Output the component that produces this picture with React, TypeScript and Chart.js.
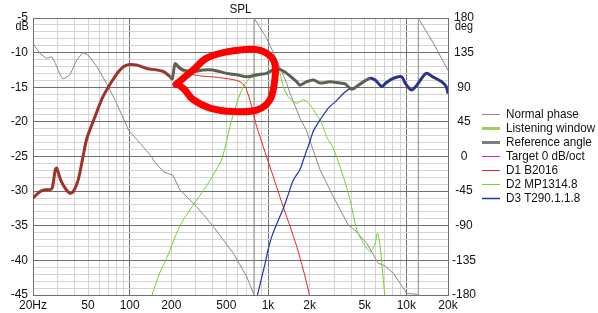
import React, { useEffect, useRef } from 'react';
import Chart from 'chart.js/auto';

// ---- Axis ticks ----
const xGridValues = [20, 30, 40, 50, 60, 70, 80, 90, 100, 200, 300, 400, 500, 600, 700, 800, 900, 1000, 2000, 3000, 4000, 5000, 6000, 7000, 8000, 9000, 10000, 20000];
const xLabelValues = [20, 50, 100, 200, 500, 1000, 2000, 5000, 10000, 20000];
const xLabelTexts = ['20Hz', '50', '100', '200', '500', '1k', '2k', '5k', '10k', '20k'];
const xMajorValues = [100, 1000, 10000];
const degTicks = [-180, -135, -90, -45, 0, 45, 90, 135, 180];

// ---- Reference angle (dB) ----
const refFreq = [20, 22.4, 24.4, 26.3, 27.5, 29, 29.7, 32, 34.8, 37, 39, 42.4, 46, 49, 56, 64, 74, 85, 95, 112, 133, 157, 176, 196, 203, 213, 224, 244, 288, 340, 400, 503, 594, 701, 828, 980, 1156, 1365, 1612, 1700, 1905, 2130, 2380, 2800, 3300, 3600, 4030, 4500, 5470, 5950, 6640, 7100, 8070, 9260, 9800, 10900, 11900, 13900, 15500, 18000, 19400, 20000];
const refDb = [-31.0, -30.1, -29.8, -29.8, -29.6, -26.9, -26.7, -28.6, -29.8, -30.3, -30.1, -28.4, -25.0, -22.4, -19.3, -16.4, -14.2, -12.5, -11.8, -11.8, -12.3, -12.5, -12.75, -13.5, -13.8, -11.6, -12.0, -12.5, -12.75, -12.5, -12.5, -13.0, -13.2, -13.5, -13.2, -13.0, -12.3, -13.0, -14.2, -14.7, -14.2, -13.95, -14.4, -14.2, -14.4, -14.5, -15.3, -14.7, -13.7, -13.95, -14.9, -14.4, -13.7, -13.5, -14.4, -15.4, -14.7, -13.0, -13.5, -14.2, -14.9, -15.9];

// ---- D1 B2016 (dB) ----
const d1Freq = [20, 22.4, 24.4, 26.3, 27.5, 29, 29.7, 32, 34.8, 37, 39, 42.4, 46, 49, 56, 64, 74, 85, 95, 112, 133, 157, 176, 196, 203, 213, 224, 244, 288, 340, 402, 476, 561, 627, 682, 720, 762, 800, 828, 925, 980, 1034, 1155, 1290, 1443, 1612, 1800, 1957, 2010];
const d1Db = [-31.0, -30.1, -29.8, -29.8, -29.6, -26.9, -26.7, -28.6, -29.8, -30.3, -30.1, -28.4, -25.0, -22.4, -19.3, -16.4, -14.2, -12.5, -11.8, -11.8, -12.3, -12.5, -12.75, -13.5, -13.8, -11.7, -12.3, -12.75, -13.2, -13.4, -13.5, -13.7, -13.9, -14.2, -14.9, -16.1, -17.8, -19.5, -20.7, -23.6, -25.2, -26.5, -29.4, -32.3, -35.1, -38.0, -41.4, -44.3, -45.5];

// ---- D2 MP1314.8 (dB) ----
const d2Freq = [145, 165, 185, 231, 288, 360, 420, 470, 530, 594, 663, 741, 875, 1005, 1155, 1220, 1290, 1403, 1612, 1800, 2010, 2250, 2400, 2650, 2960, 3500, 3920, 4380, 4760, 5470, 5950, 6180, 6460, 6750, 7000];
const d2Db = [-45.0, -41.8, -39.7, -35.0, -32.0, -29.2, -27.0, -25.0, -20.7, -17.3, -14.9, -13.7, -13.3, -12.7, -12.0, -13.0, -14.9, -16.4, -17.3, -16.8, -17.5, -19.0, -19.8, -22.1, -23.8, -27.9, -31.3, -35.6, -37.1, -38.7, -37.5, -36.1, -38.0, -41.9, -45.3];

// ---- D3 T290.1.1.8 (dB) ----
const d3Freq = [828, 875, 951, 1000, 1063, 1187, 1290, 1400, 1524, 1700, 1800, 1905, 2010, 2130, 2380, 2730, 3140, 3500, 3920, 4140, 4630, 5470, 5950, 6640, 7100, 8070, 9260, 9800, 10900, 11900, 13900, 15500, 18000, 19400, 20000];
const d3Db = [-45.5, -43.5, -40.5, -38.5, -36.6, -34.2, -32.5, -30.5, -28.4, -26.9, -25.5, -24.1, -22.8, -21.3, -19.7, -18.0, -16.9, -15.9, -15.2, -15.3, -14.4, -13.7, -13.95, -14.9, -14.4, -13.7, -13.5, -14.4, -15.4, -14.7, -13.0, -13.5, -14.2, -14.9, -15.9];

// ---- Normal phase (deg) ----
const phaseFreq = [20, 22.4, 25, 27.4, 29, 31.4, 33, 37, 41.4, 46, 50, 58, 68, 80.6, 98, 119, 144, 148, 175, 195, 205, 231, 305, 403, 561, 701, 792, 792, 978, 1155, 1365, 1443, 1700, 1905, 2010, 2380, 2960, 3800, 4250, 5170, 6270, 7000, 8070, 10080, 11900, 12200, 12200, 15700, 20000];
const phaseDeg = [147, 134, 127.6, 129.7, 121, 106, 100.7, 106, 125.4, 134.9, 132, 116.7, 95, 69, 34.4, 17.2, -0.3, -4.5, -19.7, -23, -24, -43.5, -65.2, -91.2, -125.8, -156, -180, 180, 153.6, 125.4, 95.1, 82.1, 50, 33, 20, -17.5, -52, -89, -95.5, -112.8, -138.8, -142, -152, -178, -179, -180, 180, 147, 112];

// ---- Hand-drawn annotation loop (freq, dB) ----
const annoFreq = [216, 288, 360, 503, 783, 978, 1115, 1120, 1034, 829, 561, 381, 288, 251, 228];
const annoDb = [-14.6, -12.5, -10.8, -9.9, -9.5, -10.1, -11.5, -13.9, -16.8, -18.3, -18.5, -18.0, -16.8, -15.4, -14.7];

const pts = (f: number[], v: number[]) => f.map((x, i) => ({ x, y: v[i] }));

const MAJOR = '#6f6f6f';
const MINOR = '#d4d4d4';
const FONT = "'Liberation Sans', Arial, sans-serif";

export default function App() {
  const canvasRef = useRef<HTMLCanvasElement>(null);

  useEffect(() => {
    const narrowText = (ctx: any, text: string, x: number, y: number, align: string) => {
      ctx.save();
      ctx.translate(x, y);
      ctx.scale(0.9, 1);
      ctx.textAlign = align;
      ctx.fillText(text, 0, 0);
      ctx.restore();
    };
    const overlay = {
      id: 'overlay',
      afterDatasetsDraw(chart: any) {
        const { ctx, scales } = chart;
        const xs = scales.x, ys = scales.y;
        const p = annoFreq.map((f, i) => ({ x: xs.getPixelForValue(f), y: ys.getPixelForValue(annoDb[i]) }));
        ctx.save();
        ctx.strokeStyle = '#ff0000';
        ctx.lineWidth = 7;
        ctx.lineCap = 'round';
        ctx.lineJoin = 'round';
        ctx.beginPath();
        ctx.moveTo(p[0].x, p[0].y);
        for (let i = 0; i < p.length - 1; i++) {
          const p0 = p[Math.max(0, i - 1)], p1 = p[i], p2 = p[i + 1], p3 = p[Math.min(p.length - 1, i + 2)];
          ctx.bezierCurveTo(
            p1.x + (p2.x - p0.x) / 6, p1.y + (p2.y - p0.y) / 6,
            p2.x - (p3.x - p1.x) / 6, p2.y - (p3.y - p1.y) / 6,
            p2.x, p2.y);
        }
        ctx.stroke();
        ctx.restore();
      },
      afterDraw(chart: any) {
        const { ctx, chartArea, data } = chart;
        ctx.save();
        ctx.fillStyle = '#111';
        ctx.font = `13px ${FONT}`;
        ctx.textBaseline = 'middle';
        narrowText(ctx, 'SPL', (chartArea.left + chartArea.right) / 2, 9, 'center');
        ctx.font = `12px ${FONT}`;
        narrowText(ctx, 'dB', 22, 27, 'center');
        narrowText(ctx, 'deg', 464, 27, 'center');
        // legend
        ctx.font = `13px ${FONT}`;
        const lx = 482, tx = 506;
        let y = 114;
        data.datasets.forEach((ds: any) => {
          ctx.strokeStyle = ds.legendColor || ds.borderColor;
          ctx.lineWidth = ds.legendWidth || 1;
          ctx.beginPath();
          ctx.moveTo(lx, y + 0.5);
          ctx.lineTo(lx + 18, y + 0.5);
          ctx.stroke();
          ctx.fillStyle = '#111';
          narrowText(ctx, ds.label, tx, y, 'left');
          y += 14;
        });
        ctx.restore();
      },
    };

    const chart = new Chart(canvasRef.current!, {
      type: 'line',
      data: {
        datasets: [
          { label: 'Normal phase', data: pts(phaseFreq, phaseDeg), yAxisID: 'y2', borderColor: '#8a8a8a', borderWidth: 1, order: 5, tension: 0, legendWidth: 1 } as any,
          { label: 'Listening window', data: [], borderColor: '#9dd05a', borderWidth: 3, order: 6, legendWidth: 3 } as any,
          {
            label: 'Reference angle', data: pts(refFreq, refDb), borderColor: '#7d7d7d', borderWidth: 3, order: 0, tension: 0.3, legendWidth: 3,
            segment: {
              borderColor: (c: any) => c.p1.parsed.x <= 200 ? '#9c3428' : (c.p0.parsed.x >= 4600 ? '#2b338c' : '#5d6152'),
            },
          } as any,
          { label: 'Target 0 dB/oct', data: [], borderColor: '#d020d0', borderWidth: 1, order: 7, legendWidth: 1 } as any,
          { label: 'D1 B2016', data: pts(d1Freq, d1Db), borderColor: '#e8241c', borderWidth: 1, order: 2, tension: 0.3, legendWidth: 1 } as any,
          { label: 'D2 MP1314.8', data: pts(d2Freq, d2Db), borderColor: '#6fd42a', borderWidth: 1, order: 3, tension: 0.3, legendWidth: 1 } as any,
          { label: 'D3 T290.1.1.8', data: pts(d3Freq, d3Db), borderColor: '#2332b8', borderWidth: 1.2, order: 1, tension: 0.3, legendWidth: 1.5 } as any,
        ],
      },
      options: {
        animation: false,
        responsive: false,
        devicePixelRatio: 1,
        events: [],
        elements: { point: { radius: 0 } },
        layout: { padding: { top: 18, right: 118, left: 0, bottom: 0 } },
        plugins: { legend: { display: false }, tooltip: { enabled: false }, title: { display: false } },
        scales: {
          x: {
            type: 'logarithmic', min: 20, max: 20000, position: 'bottom',
            afterBuildTicks: (s: any) => { s.ticks = xGridValues.map((v) => ({ value: v })); },
            afterFit: (s: any) => { s.height = 18; },
            ticks: {
              autoSkip: false, maxRotation: 0, minRotation: 0, padding: 3, color: '#111',
              font: { family: FONT, size: 12 },
              callback: (v: any) => { const i = xLabelValues.indexOf(Number(v)); return i >= 0 ? xLabelTexts[i] : ''; },
            },
            grid: { color: (c: any) => (xMajorValues.includes(c.tick?.value) ? MAJOR : MINOR), drawTicks: false, lineWidth: 1 },
            border: { display: true, color: MAJOR },
          },
          y: {
            type: 'linear', min: -45, max: -5, position: 'left',
            afterBuildTicks: (s: any) => { const t = []; for (let v = -45; v <= -5; v++) t.push({ value: v }); s.ticks = t; },
            afterFit: (s: any) => { s.width = 33; },
            ticks: {
              autoSkip: false, padding: 5, color: '#111',
              font: { family: FONT, size: 12 },
              callback: (v: any) => (Number(v) % 5 === 0 ? String(v) : ''),
            },
            grid: { color: (c: any) => (c.tick && c.tick.value % 5 === 0 ? MAJOR : MINOR), drawTicks: false },
            border: { display: true, color: MAJOR },
          },
          y2: {
            type: 'linear', min: -180, max: 180, position: 'right',
            afterBuildTicks: (s: any) => { s.ticks = degTicks.map((v) => ({ value: v })); },
            afterFit: (s: any) => { s.width = 32; },
            ticks: { autoSkip: false, padding: 4, crossAlign: 'center', color: '#111', font: { family: FONT, size: 12 } },
            grid: { display: false, drawTicks: false },
            border: { display: true, color: MAJOR },
          },
        },
      } as any,
      plugins: [overlay],
    });
    return () => chart.destroy();
  }, []);

  return (
    <div style={{ position: 'fixed', left: 0, top: 0, width: 598, height: 313, background: '#fff' }}>
      <canvas ref={canvasRef} width={598} height={313} style={{ display: 'block' }} />
    </div>
  );
}
